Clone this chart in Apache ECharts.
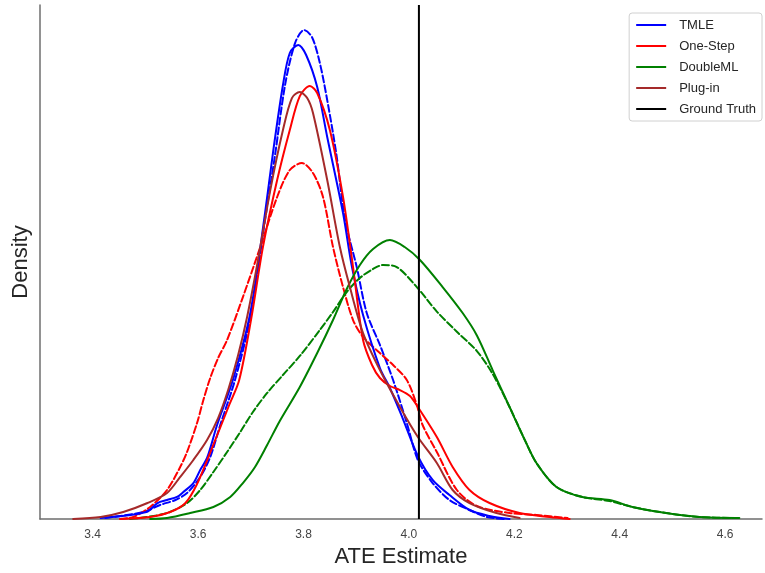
<!DOCTYPE html>
<html>
<head>
<meta charset="utf-8">
<script src="https://cdn.jsdelivr.net/npm/echarts@6/dist/echarts.min.js"></script>
<style>html,body{margin:0;padding:0;background:#fff;}#c{width:765px;height:573px;}</style>
</head>
<body>
<div id="c"></div>
<script>
// ---- data (x = ATE estimate, y = density) ----
const xTickLabels = ['3.4','3.6','3.8','4.0','4.2','4.4','4.6'];
const legendNames = ['TMLE','One-Step','DoubleML','Plug-in','Ground Truth'];
const groundTruth = 4.019;

const tmleSolid = [[3.415,0.011],[3.502,0.076],[3.523,0.174],[3.541,0.207],[3.560,0.240],[3.572,0.294],[3.591,0.392],[3.604,0.534],[3.617,0.665],[3.636,1.024],[3.666,1.514],[3.699,2.244],[3.727,3.333],[3.742,3.987],[3.761,4.728],[3.774,5.077],[3.790,5.164],[3.805,5.055],[3.826,4.706],[3.845,4.162],[3.875,3.333],[3.892,2.745],[3.913,2.222],[3.945,1.645],[3.964,1.427],[3.988,1.100],[4.017,0.686],[4.045,0.425],[4.077,0.261],[4.115,0.098],[4.153,0.033],[4.191,0]];
const tmleDashed = [[3.424,0.011],[3.496,0.076],[3.528,0.153],[3.557,0.207],[3.579,0.283],[3.604,0.458],[3.623,0.675],[3.642,1.024],[3.670,1.514],[3.699,2.190],[3.727,3.257],[3.746,3.965],[3.765,4.728],[3.784,5.185],[3.801,5.327],[3.816,5.251],[3.831,4.968],[3.846,4.532],[3.862,3.987],[3.879,3.257],[3.901,2.745],[3.920,2.244],[3.945,1.896],[3.970,1.514],[3.996,1.046],[4.017,0.643],[4.045,0.392],[4.077,0.207],[4.115,0.098],[4.148,0.022],[4.182,0]];
const oneStepSolid = [[3.452,0],[3.509,0.022],[3.547,0.076],[3.576,0.174],[3.598,0.381],[3.625,0.752],[3.659,1.242],[3.678,1.514],[3.701,2.190],[3.723,2.963],[3.750,3.693],[3.774,4.238],[3.793,4.608],[3.812,4.717],[3.826,4.641],[3.850,4.238],[3.875,3.508],[3.894,2.745],[3.913,1.950],[3.930,1.678],[3.945,1.536],[3.964,1.449],[3.983,1.405],[4.002,1.340],[4.017,1.220],[4.053,0.893],[4.083,0.567],[4.115,0.316],[4.153,0.174],[4.210,0.065],[4.267,0.022],[4.305,0]];
const oneStepDashed = [[3.452,0],[3.477,0.022],[3.509,0.131],[3.541,0.316],[3.566,0.566],[3.579,0.730],[3.598,1.046],[3.610,1.296],[3.623,1.536],[3.638,1.754],[3.655,1.950],[3.685,2.418],[3.718,2.963],[3.750,3.508],[3.774,3.802],[3.797,3.878],[3.818,3.769],[3.837,3.508],[3.856,2.963],[3.875,2.527],[3.894,2.168],[3.913,1.983],[3.945,1.808],[3.970,1.678],[3.996,1.514],[4.015,1.242],[4.026,1.024],[4.053,0.730],[4.091,0.316],[4.129,0.142],[4.191,0.065],[4.242,0.044],[4.301,0.011]];
const doubleMLSolid = [[3.509,0],[3.541,0.011],[3.585,0.065],[3.629,0.131],[3.661,0.240],[3.685,0.392],[3.708,0.567],[3.731,0.806],[3.755,1.068],[3.793,1.438],[3.826,1.808],[3.856,2.168],[3.882,2.506],[3.907,2.767],[3.932,2.941],[3.964,3.039],[3.992,2.963],[4.021,2.822],[4.064,2.527],[4.102,2.244],[4.129,2.000],[4.159,1.620],[4.191,1.220],[4.220,0.860],[4.242,0.610],[4.280,0.349],[4.329,0.240],[4.381,0.207],[4.424,0.131],[4.488,0.065],[4.551,0.022],[4.621,0.011]];
const doubleMLDashed = [[3.471,0],[3.490,0.011],[3.541,0.065],[3.579,0.174],[3.604,0.316],[3.629,0.512],[3.655,0.730],[3.680,0.948],[3.704,1.166],[3.731,1.373],[3.761,1.569],[3.793,1.776],[3.831,2.059],[3.856,2.255],[3.882,2.473],[3.907,2.626],[3.932,2.724],[3.951,2.767],[3.977,2.745],[4.015,2.527],[4.053,2.260],[4.091,2.040],[4.129,1.830],[4.159,1.580],[4.191,1.220],[4.220,0.860],[4.242,0.610],[4.280,0.349],[4.329,0.240],[4.381,0.196],[4.424,0.131],[4.488,0.065],[4.551,0.022],[4.627,0.011]];
const plugInSolid = [[3.363,0],[3.415,0.022],[3.458,0.076],[3.504,0.174],[3.541,0.283],[3.566,0.458],[3.591,0.643],[3.617,0.861],[3.638,1.100],[3.657,1.405],[3.676,1.787],[3.693,2.201],[3.712,2.767],[3.737,3.584],[3.761,4.238],[3.778,4.586],[3.793,4.652],[3.807,4.586],[3.818,4.423],[3.845,3.693],[3.869,2.963],[3.888,2.527],[3.913,2.026],[3.945,1.623],[3.983,1.220],[4.017,0.893],[4.053,0.610],[4.083,0.316],[4.115,0.174],[4.166,0.065],[4.210,0.011]];

const ymax = 5.6;

const chart = echarts.init(document.getElementById('c'), null, {renderer: 'canvas'});
const FONT = "'Liberation Sans', Arial, sans-serif";
const dash = [7, 3];
function mk(name, data, color, dashed) {
  return {
    name: name, type: 'line', data: data, showSymbol: false, symbol: 'none',
    smooth: 0.3,
    lineStyle: {color: color, width: 2, type: dashed ? dash : 'solid', cap: 'round', join: 'round'},
    itemStyle: {color: color},
    emphasis: {disabled: true}, silent: true, z: dashed ? 3 : 4
  };
}
const series = [
  mk('TMLE', tmleSolid, '#0000ff', false),
  mk('TMLE ', tmleDashed, '#0000ff', true),
  mk('One-Step', oneStepSolid, '#ff0000', false),
  mk('One-Step ', oneStepDashed, '#ff0000', true),
  mk('DoubleML', doubleMLSolid, '#008000', false),
  mk('DoubleML ', doubleMLDashed, '#008000', true),
  mk('Plug-in', plugInSolid, '#a52a2a', false),
  {
    name: 'Ground Truth', type: 'line', data: [[groundTruth, 0], [groundTruth, ymax]],
    showSymbol: false, symbol: 'none', silent: true,
    lineStyle: {color: '#000000', width: 2}, itemStyle: {color: '#000000'}, z: 5
  }
];

chart.setOption({
  animation: false,
  backgroundColor: '#ffffff',
  grid: {left: 40, right: 2, top: 5, bottom: 54},
  legend: {
    data: legendNames,
    right: 3, top: 13, orient: 'vertical',
    icon: 'rect', itemWidth: 30, itemHeight: 2, itemGap: 7,
    backgroundColor: '#ffffff', borderColor: '#d0d0d0', borderWidth: 1, borderRadius: 3,
    padding: [5, 6, 5, 7],
    textStyle: {fontFamily: FONT, fontSize: 13, color: '#262626', lineHeight: 14, padding: [0, 0, 0, 8]},
    selectedMode: false
  },
  xAxis: {
    type: 'value', min: 3.3, max: 4.67, interval: 0.1,
    name: 'ATE Estimate', nameLocation: 'middle', nameGap: 26,
    nameTextStyle: {fontFamily: FONT, fontSize: 22, color: '#262626'},
    axisLine: {show: true, onZero: false, lineStyle: {color: '#6e6e6e', width: 1.5}},
    axisTick: {show: false},
    splitLine: {show: false},
    axisLabel: {
      fontFamily: FONT, fontSize: 12, color: '#444', margin: 10,
      formatter: function (v) {
        const k = Math.round(v * 10);
        if (k % 2 !== 0) return '';
        const s = (k / 10).toFixed(1);
        return xTickLabels.indexOf(s) >= 0 ? s : '';
      }
    }
  },
  yAxis: {
    type: 'value', min: 0, max: ymax,
    name: 'Density', nameLocation: 'middle', nameGap: 8,
    nameTextStyle: {fontFamily: FONT, fontSize: 22, color: '#262626'},
    axisLine: {show: true, lineStyle: {color: '#6e6e6e', width: 1.5}},
    axisTick: {show: false}, axisLabel: {show: false}, splitLine: {show: false}
  },
  series: series
});
</script>
</body>
</html>
